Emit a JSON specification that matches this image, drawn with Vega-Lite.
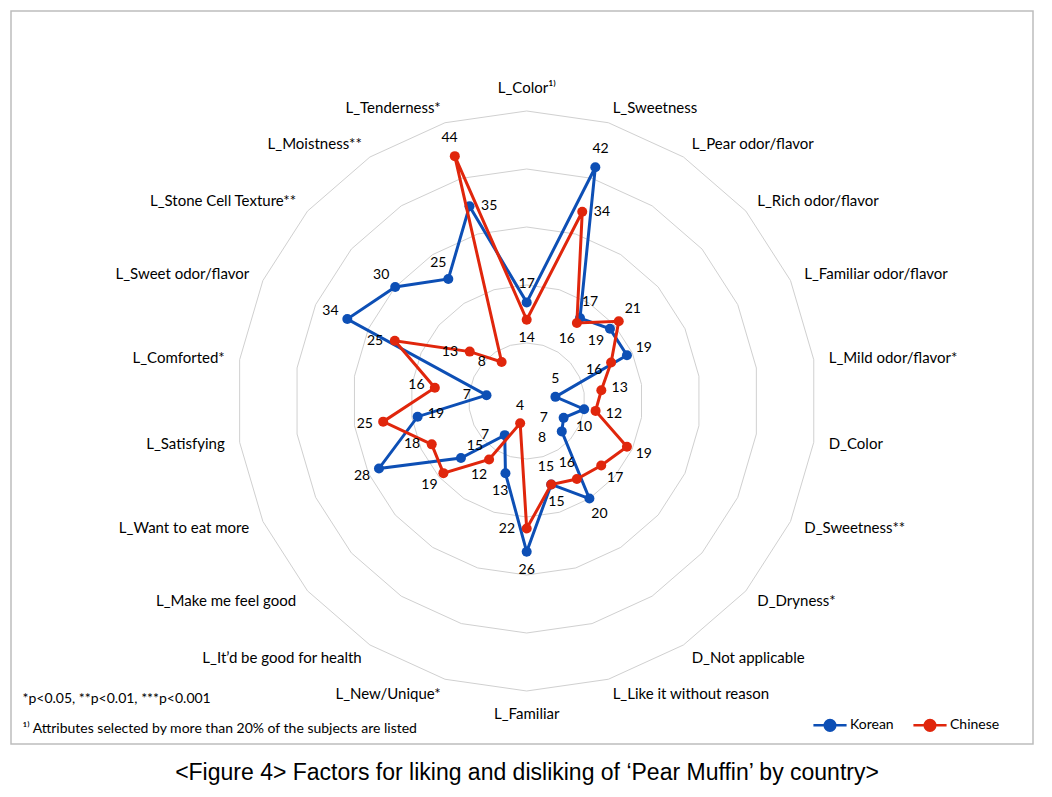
{
  "$schema": "https://vega.github.io/schema/vega-lite/v6.json",
  "width": 1022,
  "height": 733,
  "autosize": {"type": "none"},
  "padding": {"left": 11, "top": 11, "right": 19, "bottom": 53},
  "background": "white",
  "config": {
    "view": {"stroke": "#BDBDBD", "strokeWidth": 1.5},
    "font": "Lato",
    "legend": {
      "symbolType": "M-1,0L1,0M-0.32,0A0.32,0.32,0,1,0,0.32,0A0.32,0.32,0,1,0,-0.32,0",
      "symbolSize": 1100,
      "symbolStrokeWidth": 2.5,
      "labelFont": "Lato",
      "labelFontSize": 14,
      "labelColor": "#000",
      "padding": 0,
      "columnPadding": 14,
      "labelOffset": 2
    }
  },
  "title": {
    "text": "<Figure 4> Factors for liking and disliking of ‘Pear Muffin’ by country>",
    "orient": "bottom",
    "anchor": "middle",
    "offset": 18,
    "baseline": "top",
    "font": "Liberation Sans",
    "fontSize": 23,
    "fontWeight": "normal",
    "color": "#000",
    "dx": 5
  },
  "datasets": {
    "cats": [
      {"i": 0, "attr": "L_Color¹⁾", "Korean": 17, "Chinese": 14},
      {"i": 1, "attr": "L_Sweetness", "Korean": 42, "Chinese": 34},
      {"i": 2, "attr": "L_Pear odor/flavor", "Korean": 17, "Chinese": 16},
      {"i": 3, "attr": "L_Rich odor/flavor", "Korean": 19, "Chinese": 21},
      {"i": 4, "attr": "L_Familiar odor/flavor", "Korean": 19, "Chinese": 16},
      {"i": 5, "attr": "L_Mild odor/flavor*", "Korean": 5, "Chinese": 13},
      {"i": 6, "attr": "D_Color", "Korean": 10, "Chinese": 12},
      {"i": 7, "attr": "D_Sweetness**", "Korean": 7, "Chinese": 19},
      {"i": 8, "attr": "D_Dryness*", "Korean": 8, "Chinese": 17},
      {"i": 9, "attr": "D_Not applicable", "Korean": 20, "Chinese": 16},
      {"i": 10, "attr": "L_Like it without reason", "Korean": 15, "Chinese": 15},
      {"i": 11, "attr": "L_Familiar", "Korean": 26, "Chinese": 22},
      {"i": 12, "attr": "L_New/Unique*", "Korean": 13, "Chinese": 4},
      {"i": 13, "attr": "L_It’d be good for health", "Korean": 7, "Chinese": 12},
      {"i": 14, "attr": "L_Make me feel good", "Korean": 15, "Chinese": 19},
      {"i": 15, "attr": "L_Want to eat more", "Korean": 28, "Chinese": 18},
      {"i": 16, "attr": "L_Satisfying", "Korean": 19, "Chinese": 25},
      {"i": 17, "attr": "L_Comforted*", "Korean": 7, "Chinese": 16},
      {"i": 18, "attr": "L_Sweet odor/flavor", "Korean": 34, "Chinese": 25},
      {"i": 19, "attr": "L_Stone Cell Texture**", "Korean": 30, "Chinese": 13},
      {"i": 20, "attr": "L_Moistness**", "Korean": 25, "Chinese": 8},
      {"i": 21, "attr": "L_Tenderness*", "Korean": 35, "Chinese": 44}
    ]
  },
  "encoding": {
    "x": {
      "field": "px", "type": "quantitative",
      "scale": {"domain": [-88.91, 87.29], "nice": false, "zero": false},
      "axis": {
        "domain": false, "ticks": false, "labels": false, "grid": false,
        "title": ["*p<0.05, **p<0.01, ***p<0.001", "¹⁾ Attributes selected by more than 20% of the subjects are listed"],
        "titleAnchor": "start", "titleAlign": "left", "titleBaseline": "alphabetic",
        "titleX": 11, "titleY": -42, "titleLineHeight": 30,
        "titleFont": "Lato", "titleFontSize": 14, "titleFontWeight": "normal", "titleColor": "#000"
      }
    },
    "y": {
      "field": "py", "type": "quantitative",
      "scale": {"domain": [-59.14, 67.24], "nice": false, "zero": false},
      "axis": null
    }
  },
  "layer": [
    {
      "data": {"name": "cats"},
      "transform": [
        {"calculate": "[10,20,30,40,50]", "as": "ring"},
        {"flatten": ["ring"]},
        {"calculate": "datum.i*2*PI/22", "as": "a"},
        {"calculate": "datum.ring*sin(datum.a)", "as": "px"},
        {"calculate": "datum.ring*cos(datum.a)", "as": "py"}
      ],
      "mark": {"type": "line", "interpolate": "linear-closed", "stroke": "#D0D0D0", "strokeWidth": 1},
      "encoding": {
        "detail": {"field": "ring", "type": "nominal"},
        "order": {"field": "i", "type": "quantitative"}
      }
    },
    {
      "data": {"name": "cats"},
      "transform": [
        {"fold": ["Korean", "Chinese"], "as": ["series", "value"]},
        {"filter": "datum.series == 'Korean'"},
        {"calculate": "datum.i*2*PI/22", "as": "a"},
        {"calculate": "datum.value*sin(datum.a)", "as": "px"},
        {"calculate": "datum.value*cos(datum.a)", "as": "py"}
      ],
      "layer": [
        {
          "mark": {"type": "line", "interpolate": "linear-closed", "strokeWidth": 3},
          "encoding": {
            "color": {"field": "series", "type": "nominal", "scale": {"domain": ["Korean", "Chinese"], "range": ["#0D4FB5", "#E0260C"]},
              "legend": {"orient": "none", "legendX": 801, "legendY": 696, "direction": "horizontal", "title": null,
                "encode": {"symbols": {"update": {"fill": {"scale": "color", "field": "value"}, "stroke": {"scale": "color", "field": "value"}, "opacity": {"value": 1}}}}}},
            "order": {"field": "i", "type": "quantitative"}
          }
        },
        {
          "mark": {"type": "point", "filled": true, "size": 100, "opacity": 1},
          "encoding": {
            "color": {"field": "series", "type": "nominal", "scale": {"domain": ["Korean", "Chinese"], "range": ["#0D4FB5", "#E0260C"]},
              "legend": {"orient": "none", "legendX": 801, "legendY": 696, "direction": "horizontal", "title": null,
                "encode": {"symbols": {"update": {"fill": {"scale": "color", "field": "value"}, "stroke": {"scale": "color", "field": "value"}, "opacity": {"value": 1}}}}}}
          }
        }
      ]
    },
    {
      "data": {"name": "cats"},
      "transform": [
        {"fold": ["Korean", "Chinese"], "as": ["series", "value"]},
        {"filter": "datum.series == 'Chinese'"},
        {"calculate": "datum.i*2*PI/22", "as": "a"},
        {"calculate": "datum.value*sin(datum.a)", "as": "px"},
        {"calculate": "datum.value*cos(datum.a)", "as": "py"}
      ],
      "layer": [
        {
          "mark": {"type": "line", "interpolate": "linear-closed", "strokeWidth": 3},
          "encoding": {
            "color": {"field": "series", "type": "nominal", "scale": {"domain": ["Korean", "Chinese"], "range": ["#0D4FB5", "#E0260C"]},
              "legend": {"orient": "none", "legendX": 801, "legendY": 696, "direction": "horizontal", "title": null,
                "encode": {"symbols": {"update": {"fill": {"scale": "color", "field": "value"}, "stroke": {"scale": "color", "field": "value"}, "opacity": {"value": 1}}}}}},
            "order": {"field": "i", "type": "quantitative"}
          }
        },
        {
          "mark": {"type": "point", "filled": true, "size": 100, "opacity": 1},
          "encoding": {
            "color": {"field": "series", "type": "nominal", "scale": {"domain": ["Korean", "Chinese"], "range": ["#0D4FB5", "#E0260C"]},
              "legend": {"orient": "none", "legendX": 801, "legendY": 696, "direction": "horizontal", "title": null,
                "encode": {"symbols": {"update": {"fill": {"scale": "color", "field": "value"}, "stroke": {"scale": "color", "field": "value"}, "opacity": {"value": 1}}}}}}
          }
        }
      ]
    },
    {
      "data": {"name": "cats"},
      "transform": [
        {"fold": ["Korean", "Chinese"], "as": ["series", "value"]},
        {"joinaggregate": [{"op": "max", "field": "value", "as": "vmax"}, {"op": "min", "field": "value", "as": "vmin"}], "groupby": ["i"]},
        {"calculate": "(datum.value > datum.vmin || (datum.vmax == datum.vmin && datum.series == 'Korean')) ? 'out' : datum.value >= 30 ? 'right' : datum.value < 6 ? 'up' : (datum.value >= 9 && datum.value < 12 && datum.i <= 10) ? 'down' : datum.value < 12 ? 'left' : (datum.i >= 11 && datum.series == 'Chinese') ? 'left' : 'in'", "as": "mode"},
        {"calculate": "datum.i*2*PI/22", "as": "a"},
        {"calculate": "datum.mode == 'out' ? (datum.value + 3.2)*sin(datum.a) : datum.mode == 'in' ? (datum.value - 3.2)*sin(datum.a) : datum.value*sin(datum.a) + (datum.mode == 'right' ? 3.4 : datum.mode == 'left' ? -3.4 : 0)", "as": "px"},
        {"calculate": "datum.mode == 'out' ? (datum.value + 3.2)*cos(datum.a) : datum.mode == 'in' ? (datum.value - 3.2)*cos(datum.a) : datum.value*cos(datum.a) + (datum.mode == 'up' ? 3 : datum.mode == 'down' ? -3 : (datum.mode == 'left' && datum.i >= 8 && datum.i <= 10) ? -1.2 : 0)", "as": "py"}
      ],
      "mark": {"type": "text", "fontSize": 14, "color": "#000", "align": "center", "baseline": "middle", "font": "Lato"},
      "encoding": {"text": {"field": "value", "type": "quantitative"}}
    },
    {
      "data": {"name": "cats"},
      "transform": [
        {"filter": "datum.i >= 1 && datum.i <= 10"},
        {"calculate": "datum.i*2*PI/22", "as": "a"},
        {"calculate": "52.6*sin(datum.a)", "as": "px"},
        {"calculate": "52.6*cos(datum.a)", "as": "py"}
      ],
      "mark": {"type": "text", "fontSize": 15, "color": "#000", "align": "left", "baseline": "middle", "font": "Lato"},
      "encoding": {"text": {"field": "attr", "type": "nominal"}}
    },
    {
      "data": {"name": "cats"},
      "transform": [
        {"filter": "datum.i >= 12"},
        {"calculate": "datum.i*2*PI/22", "as": "a"},
        {"calculate": "52.6*sin(datum.a)", "as": "px"},
        {"calculate": "52.6*cos(datum.a)", "as": "py"}
      ],
      "mark": {"type": "text", "fontSize": 15, "color": "#000", "align": "right", "baseline": "middle", "font": "Lato"},
      "encoding": {"text": {"field": "attr", "type": "nominal"}}
    },
    {
      "data": {"name": "cats"},
      "transform": [
        {"filter": "datum.i == 0 || datum.i == 11"},
        {"calculate": "datum.i*2*PI/22", "as": "a"},
        {"calculate": "54*sin(datum.a)", "as": "px"},
        {"calculate": "54*cos(datum.a)", "as": "py"}
      ],
      "mark": {"type": "text", "fontSize": 15, "color": "#000", "align": "center", "baseline": "middle", "font": "Lato"},
      "encoding": {"text": {"field": "attr", "type": "nominal"}}
    }
  ]
}
